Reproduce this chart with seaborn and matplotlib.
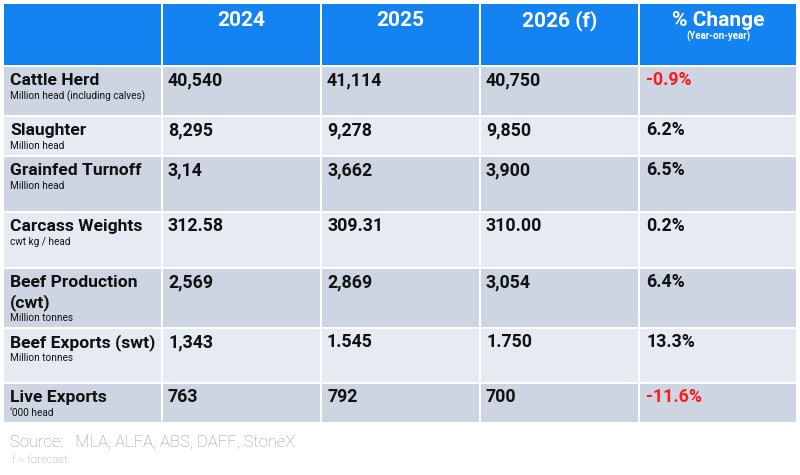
import matplotlib
matplotlib.use("Agg")
import matplotlib.pyplot as plt
from matplotlib.patches import Rectangle
import seaborn as sns

# ---- data ----
columns = ["2024", "2025", "2026 (f)", "% Change"]
header_sub = ["", "", "", "(Year-on-year)"]
row_labels = ["Cattle Herd", "Slaughter", "Grainfed Turnoff", "Carcass Weights",
              "Beef Production\n(cwt)", "Beef Exports (swt)", "Live Exports"]
row_units = ["Million head (including calves)", "Million head", "Million head",
             "cwt kg / head", "Million tonnes", "Million tonnes", "\u2018000 head"]
v2024 = ["40,540", "8,295", "3,14", "312.58", "2,569", "1,343", "763"]
v2025 = ["41,114", "9,278", "3,662", "309.31", "2,869", "1.545", "792"]
v2026 = ["40,750", "9,850", "3,900", "310.00", "3,054", "1.750", "700"]
pct_change = [-0.9, 6.2, 6.5, 0.2, 6.4, 13.3, -11.6]
source_text = "Source:   MLA, ALFA, ABS, DAFF, StoneX"
note_text = "f = forecast"

# ---- layout (pixels) ----
col_edges = [3, 162, 321, 480, 639, 797]
row_edges = [3, 66, 116, 156, 212, 268, 328, 383, 423]
gap = 2

HEADER = "#1383F1"
DARK = "#CCD5E1"
LIGHT = "#E6EAF2"
RED = "#FF1A1A"
TXT = "#111111"

sns.set_theme(style="white")
plt.rcParams["font.family"] = ["Roboto", "DejaVu Sans"]

fig = plt.figure(figsize=(8, 4.75), dpi=100)
ax = fig.add_axes([0, 0, 1, 1])
ax.set_xlim(0, 800)
ax.set_ylim(475, 0)
ax.axis("off")

def cell(x0, x1, y0, y1, color):
    ax.add_patch(Rectangle((x0 + gap / 2, y0 + gap / 2), x1 - x0 - gap, y1 - y0 - gap,
                           facecolor=color, edgecolor="none"))

# header
for j in range(5):
    cell(col_edges[j], col_edges[j + 1], row_edges[0], row_edges[1], HEADER)
for j, name in enumerate(columns):
    xc = (col_edges[j + 1] + col_edges[j + 2]) / 2
    ax.text(xc, row_edges[0] + 23, name, ha="center", va="baseline",
            fontsize=15, fontweight="bold", color="white")
    if header_sub[j]:
        ax.text(xc, row_edges[0] + 37, header_sub[j], ha="center", va="baseline",
                fontsize=7, fontweight="bold", color="white")

# body
n = len(row_labels)
for i in range(n):
    y0, y1 = row_edges[i + 1], row_edges[i + 2]
    color = DARK if i % 2 == 0 else LIGHT
    for j in range(5):
        cell(col_edges[j], col_edges[j + 1], y0, y1, color)
    base = y0 + 19
    lines = row_labels[i].split("\n")
    for k, ln in enumerate(lines):
        ax.text(10, base + k * 20, ln, ha="left", va="baseline",
                fontsize=12.6, fontweight="bold", color=TXT)
    ax.text(10, base + (len(lines) - 1) * 20 + 14, row_units[i], ha="left",
            va="baseline", fontsize=7.2, color=TXT)
    vals = [v2024[i], v2025[i], v2026[i]]
    for j, v in enumerate(vals):
        ax.text(col_edges[j + 1] + 6, base, v, ha="left", va="baseline",
                fontsize=12.8, fontweight="bold", color=TXT)
    p = pct_change[i]
    ax.text(col_edges[4] + 7, base, f"{p:.1f}%", ha="left", va="baseline",
            fontsize=12.8, fontweight="bold", color=RED if p < 0 else TXT)

ax.text(10, 447, source_text, ha="left", va="baseline", fontsize=12,
        fontweight="light", color="#999999")
ax.text(12, 463, note_text, ha="left", va="baseline", fontsize=8.2,
        fontweight="light", color="#999999")

fig.savefig("out.png", dpi=100, facecolor="white")
